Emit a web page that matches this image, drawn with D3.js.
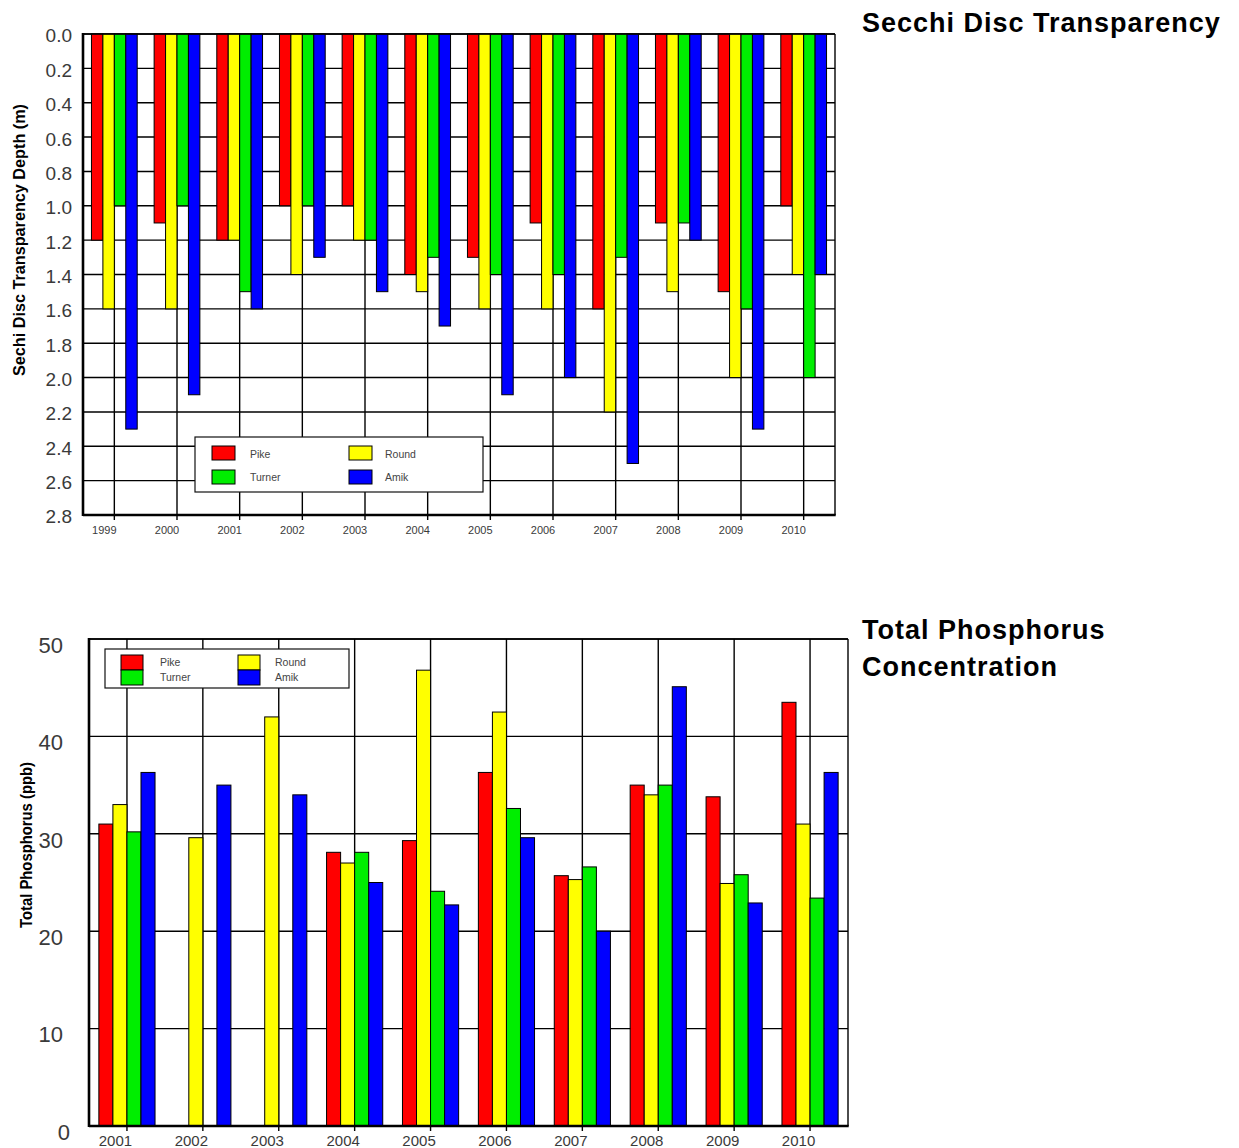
<!DOCTYPE html>
<html><head><meta charset="utf-8">
<script src="https://cdn.jsdelivr.net/npm/d3@7"></script>
<style>body{margin:0;background:#fff} svg{display:block}</style>
</head><body>
<svg id="c" width="1239" height="1148"></svg>
<script>
// ---------- data ----------
const lakes = ["Pike", "Round", "Turner", "Amik"];
const lakeColors = ["#ff0000", "#ffff00", "#00ee00", "#0000ff"];

const secchiYears = ["1999","2000","2001","2002","2003","2004","2005","2006","2007","2008","2009","2010"];
const secchiPike   = [1.2, 1.1, 1.2, 1.0, 1.0, 1.4, 1.3, 1.1, 1.6, 1.1, 1.5, 1.0];
const secchiRound  = [1.6, 1.6, 1.2, 1.4, 1.2, 1.5, 1.6, 1.6, 2.2, 1.5, 2.0, 1.4];
const secchiTurner = [1.0, 1.0, 1.5, 1.0, 1.2, 1.3, 1.4, 1.4, 1.3, 1.1, 1.6, 2.0];
const secchiAmik   = [2.3, 2.1, 1.6, 1.3, 1.5, 1.7, 2.1, 2.0, 2.5, 1.2, 2.3, 1.4];
const secchiTicks  = [0, 0.2, 0.4, 0.6, 0.8, 1.0, 1.2, 1.4, 1.6, 1.8, 2.0, 2.2, 2.4, 2.6, 2.8];

const tpYears  = ["2001","2002","2003","2004","2005","2006","2007","2008","2009","2010"];
const tpPike   = [31.0, null, null, 28.1, 29.3, 36.3, 25.7, 35.0, 33.8, 43.5];
const tpRound  = [33.0, 29.6, 42.0, 27.0, 46.8, 42.5, 25.3, 34.0, 24.9, 31.0];
const tpTurner = [30.2, null, null, 28.1, 24.1, 32.6, 26.6, 35.0, 25.8, 23.4];
const tpAmik   = [36.3, 35.0, 34.0, 25.0, 22.7, 29.6, 20.0, 45.1, 22.9, 36.3];
const tpTicks  = [0, 10, 20, 30, 40, 50];

const svg = d3.select("#c");
const FONT = "'Liberation Sans', Arial, sans-serif";
const NARROW = "'Liberation Sans Narrow', 'Liberation Sans', Arial, sans-serif";

function drawChart(o) {
  const g = svg.append("g");
  const x = d3.scaleBand().domain(o.years).range([o.x0, o.x1])
    .paddingInner(o.padIn).paddingOuter(o.padIn / 2);
  const xs = d3.scaleBand().domain(lakes).range([0, x.bandwidth()]);
  const y = d3.scaleLinear().domain(o.domain).range([o.yTop, o.yBot]);
  const base = o.baseVal;

  // horizontal grid
  g.append("g").selectAll("line").data(o.ticks).join("line")
    .attr("x1", o.x0).attr("x2", o.x1)
    .attr("y1", d => y(d)).attr("y2", d => y(d))
    .attr("stroke", "#000").attr("stroke-width", 1.4);
  // vertical grid
  g.append("g").selectAll("line").data(o.years).join("line")
    .attr("x1", d => x(d) + x.bandwidth() / 2).attr("x2", d => x(d) + x.bandwidth() / 2)
    .attr("y1", o.yTop).attr("y2", o.yBot)
    .attr("stroke", "#000").attr("stroke-width", 1.4);
  // right border
  g.append("line").attr("x1", o.x1).attr("x2", o.x1).attr("y1", o.yTop).attr("y2", o.yBot)
    .attr("stroke", "#000").attr("stroke-width", 1.4);

  // bars
  const rows = [];
  o.years.forEach((yr, i) => lakes.forEach((lk, j) => {
    const v = o.series[j][i];
    if (v !== null && v !== undefined) rows.push({ yr, lk, v, c: lakeColors[j] });
  }));
  g.append("g").selectAll("rect").data(rows).join("rect")
    .attr("x", d => x(d.yr) + xs(d.lk))
    .attr("width", xs.bandwidth())
    .attr("y", d => Math.min(y(base), y(d.v)))
    .attr("height", d => Math.abs(y(d.v) - y(base)))
    .attr("fill", d => d.c).attr("stroke", "#000").attr("stroke-width", 1);

  // top border (over bars)
  g.append("line").attr("x1", o.x0).attr("x2", o.x1).attr("y1", o.yTop).attr("y2", o.yTop)
    .attr("stroke", "#000").attr("stroke-width", 1.4);

  // y axis
  const ya = g.append("g").attr("transform", `translate(${o.x0},0)`)
    .call(d3.axisLeft(y).tickValues(o.ticks).tickFormat(o.fmt).tickSize(0).tickPadding(o.yPad));
  ya.select(".domain").remove();
  ya.selectAll("text").attr("font-family", FONT).attr("font-size", o.yFont)
    .attr("fill", "#3a3a3a").attr("dy", o.yDy)
    .attr("dx", d => (o.zeroShift && d === 0) ? o.zeroShift : 0);

  // x axis
  const xa = g.append("g").attr("transform", `translate(0,${o.yBot})`)
    .call(d3.axisBottom(x).tickSize(5).tickPadding(o.xPad));
  xa.select(".domain").remove();
  xa.selectAll("line").attr("stroke", "#000").attr("stroke-width", 1.4);
  xa.selectAll("text").attr("font-family", FONT).attr("font-size", o.xFont)
    .attr("fill", "#3a3a3a").attr("dx", o.xDx);

  // thick left and bottom axis lines
  g.append("line").attr("x1", o.x0).attr("x2", o.x0).attr("y1", o.yTop - 1).attr("y2", o.yBot + 1)
    .attr("stroke", "#000").attr("stroke-width", 2.6);
  g.append("line").attr("x1", o.x0).attr("x2", o.x1 + 0.7).attr("y1", o.yBot).attr("y2", o.yBot)
    .attr("stroke", "#000").attr("stroke-width", 2.6);

  // y title
  g.append("text")
    .attr("transform", `translate(${o.tX},${o.tY}) rotate(-90)`)
    .attr("text-anchor", "middle")
    .attr("font-family", NARROW).attr("font-weight", "bold").attr("font-size", o.tFont)
    .attr("textLength", o.tLen).attr("lengthAdjust", "spacingAndGlyphs")
    .attr("fill", "#000").text(o.yTitle);

  // legend
  const L = o.legend;
  const lg = g.append("g");
  lg.append("rect").attr("x", L.x).attr("y", L.y).attr("width", L.w).attr("height", L.h)
    .attr("fill", "#fff").attr("stroke", "#111").attr("stroke-width", 1.2);
  lakes.forEach((lk, j) => {
    const col = j % 2, row = Math.floor(j / 2);
    const sx = L.sx[col], sy = L.sy[row];
    lg.append("rect").attr("x", sx).attr("y", sy).attr("width", L.sw).attr("height", L.sh)
      .attr("fill", lakeColors[j]).attr("stroke", "#000").attr("stroke-width", 1);
    lg.append("text").attr("x", L.tx[col]).attr("y", L.ty[row])
      .attr("font-family", FONT).attr("font-size", L.font).attr("fill", "#444").text(lk);
  });
}

drawChart({
  years: secchiYears,
  series: [secchiPike, secchiRound, secchiTurner, secchiAmik],
  x0: 83, x1: 835, padIn: 0.27,
  domain: [0, 2.8], yTop: 34, yBot: 515, baseVal: 0,
  ticks: secchiTicks, fmt: d3.format(".1f"),
  yPad: 11, yFont: 19, yDy: "0.42em",
  xPad: 6, xFont: 11, xDx: -10,
  yTitle: "Sechi Disc Transparency Depth (m)",
  tX: 25, tY: 240, tFont: 17, tLen: 272,
  legend: { x: 195, y: 437, w: 288, h: 55,
    sx: [212, 349], sy: [446, 470], sw: 23, sh: 14,
    tx: [250, 385], ty: [458, 481], font: 10.5 }
});

drawChart({
  years: tpYears,
  series: [tpPike, tpRound, tpTurner, tpAmik],
  x0: 89, x1: 848, padIn: 0.26,
  domain: [50, 0], yTop: 639, yBot: 1126, baseVal: 0,
  ticks: tpTicks, fmt: d3.format("d"),
  yPad: 26, yFont: 22, yDy: "0.6em", zeroShift: 7,
  xPad: 4, xFont: 15, xDx: -11.5,
  yTitle: "Total Phosphorus (ppb)",
  tX: 32, tY: 845, tFont: 17, tLen: 166,
  legend: { x: 105, y: 649, w: 244, h: 39,
    sx: [121, 238], sy: [655, 670], sw: 22, sh: 15,
    tx: [160, 275], ty: [666, 681], font: 10.5 }
});

// side titles
const titles = [
  { lines: ["Secchi Disc Transparency"], x: 862, y: 32 },
  { lines: ["Total Phosphorus", "Concentration"], x: 862, y: 639 }
];
titles.forEach(t => {
  const tx = svg.append("text").attr("font-family", FONT).attr("font-weight", "bold")
    .attr("font-size", 27).attr("letter-spacing", 1).attr("fill", "#000");
  t.lines.forEach((ln, i) => tx.append("tspan").attr("x", t.x).attr("y", t.y + i * 37).text(ln));
});
</script>
</body></html>
